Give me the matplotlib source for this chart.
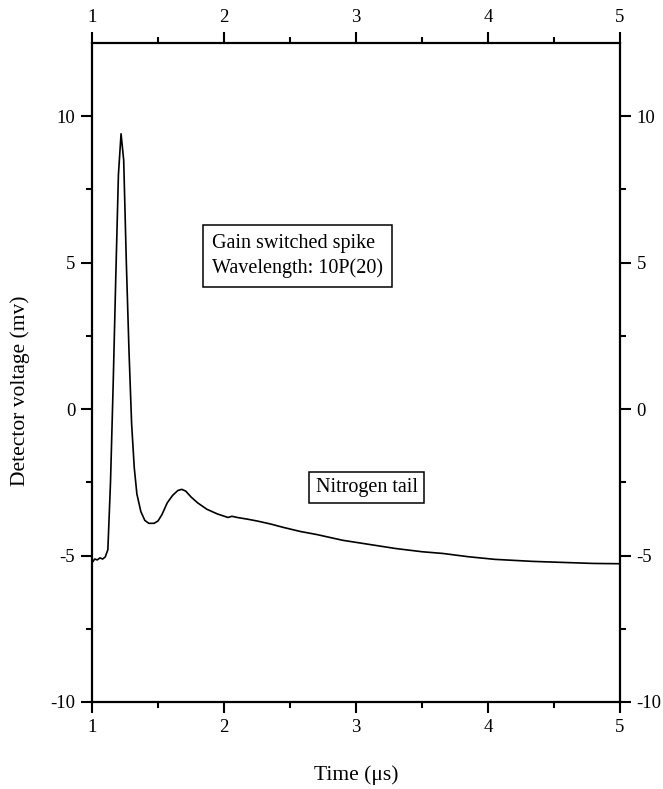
import numpy as np
import matplotlib.pyplot as plt

''' --- Detector trace (read from the figure) --- '''
time_us = [1.00, 1.02, 1.04, 1.06, 1.08, 1.10, 1.12, 1.14, 1.16, 1.18,
           1.20, 1.22, 1.24, 1.26, 1.28, 1.30, 1.32, 1.34, 1.37, 1.40,
           1.43, 1.47, 1.50, 1.53, 1.57, 1.61, 1.65, 1.68, 1.71, 1.75,
           1.80, 1.87, 1.95, 2.03, 2.06, 2.10, 2.18, 2.25, 2.35, 2.45,
           2.58, 2.70, 2.90, 3.10, 3.30, 3.50, 3.66, 3.85, 4.05, 4.34,
           4.60, 4.80, 5.00]
voltage_mv = [-5.25, -5.12, -5.15, -5.08, -5.12, -5.05, -4.8, -2.5, 0.8, 4.5,
              8.0, 9.4, 8.5, 5.0, 2.0, -0.5, -2.0, -2.9, -3.5, -3.8,
              -3.9, -3.9, -3.82, -3.6, -3.2, -2.95, -2.78, -2.74, -2.8, -3.0,
              -3.2, -3.42, -3.58, -3.7, -3.66, -3.7, -3.76, -3.82, -3.92, -4.04,
              -4.18, -4.28, -4.48, -4.62, -4.76, -4.87, -4.93, -5.04, -5.13, -5.2,
              -5.24, -5.27, -5.28]

x_ticks = [1, 2, 3, 4, 5]
y_ticks = [-10, -5, 0, 5, 10]

plt.rcParams['font.family'] = ['Liberation Serif', 'DejaVu Serif']
plt.rcParams['axes.unicode_minus'] = False

fig = plt.figure(figsize=(6.63, 7.89), dpi=100)
ax = fig.add_axes([0.1388, 0.1103, 0.7962, 0.8352])

ax.plot(time_us, voltage_mv, color='black', lw=1.2)

ax.set_xlim(1, 5)
ax.set_ylim(-10, 12.5)
ax.set_xticks(x_ticks)
ax.set_xticks(np.arange(1.5, 5, 1.0), minor=True)
ax.set_yticks(y_ticks)
ax.set_yticks(np.arange(-7.5, 12.5, 5.0), minor=True)

ax.tick_params(which='both', direction='out', top=True, right=True,
               labeltop=True, labelright=True, width=1.5, labelsize=13.5)
ax.tick_params(which='major', length=8, pad=4)
ax.tick_params(which='minor', length=4.5)
for s in ax.spines.values():
    s.set_linewidth(1.6)

# annotation boxes
ax.text(1.91, 5.22, 'Gain switched spike\nWavelength: 10P(20)', fontsize=14.5,
        ha='left', va='center', linespacing=1.35,
        bbox=dict(boxstyle='square,pad=0.45', fc='white', ec='black', lw=1.1))
ax.text(3.08, -2.67, 'Nitrogen tail', fontsize=14.5, ha='center', va='center',
        bbox=dict(boxstyle='square,pad=0.3', fc='white', ec='black', lw=1.1))

fig.text(0.030, 0.505, 'Detector voltage (mv)', rotation=90, fontsize=15.5,
         ha='center', va='center')
fig.text(0.537, 0.018, 'Time (\u03bcs)', fontsize=15.5, ha='center', va='center')

plt.savefig('out.png', dpi=100)
